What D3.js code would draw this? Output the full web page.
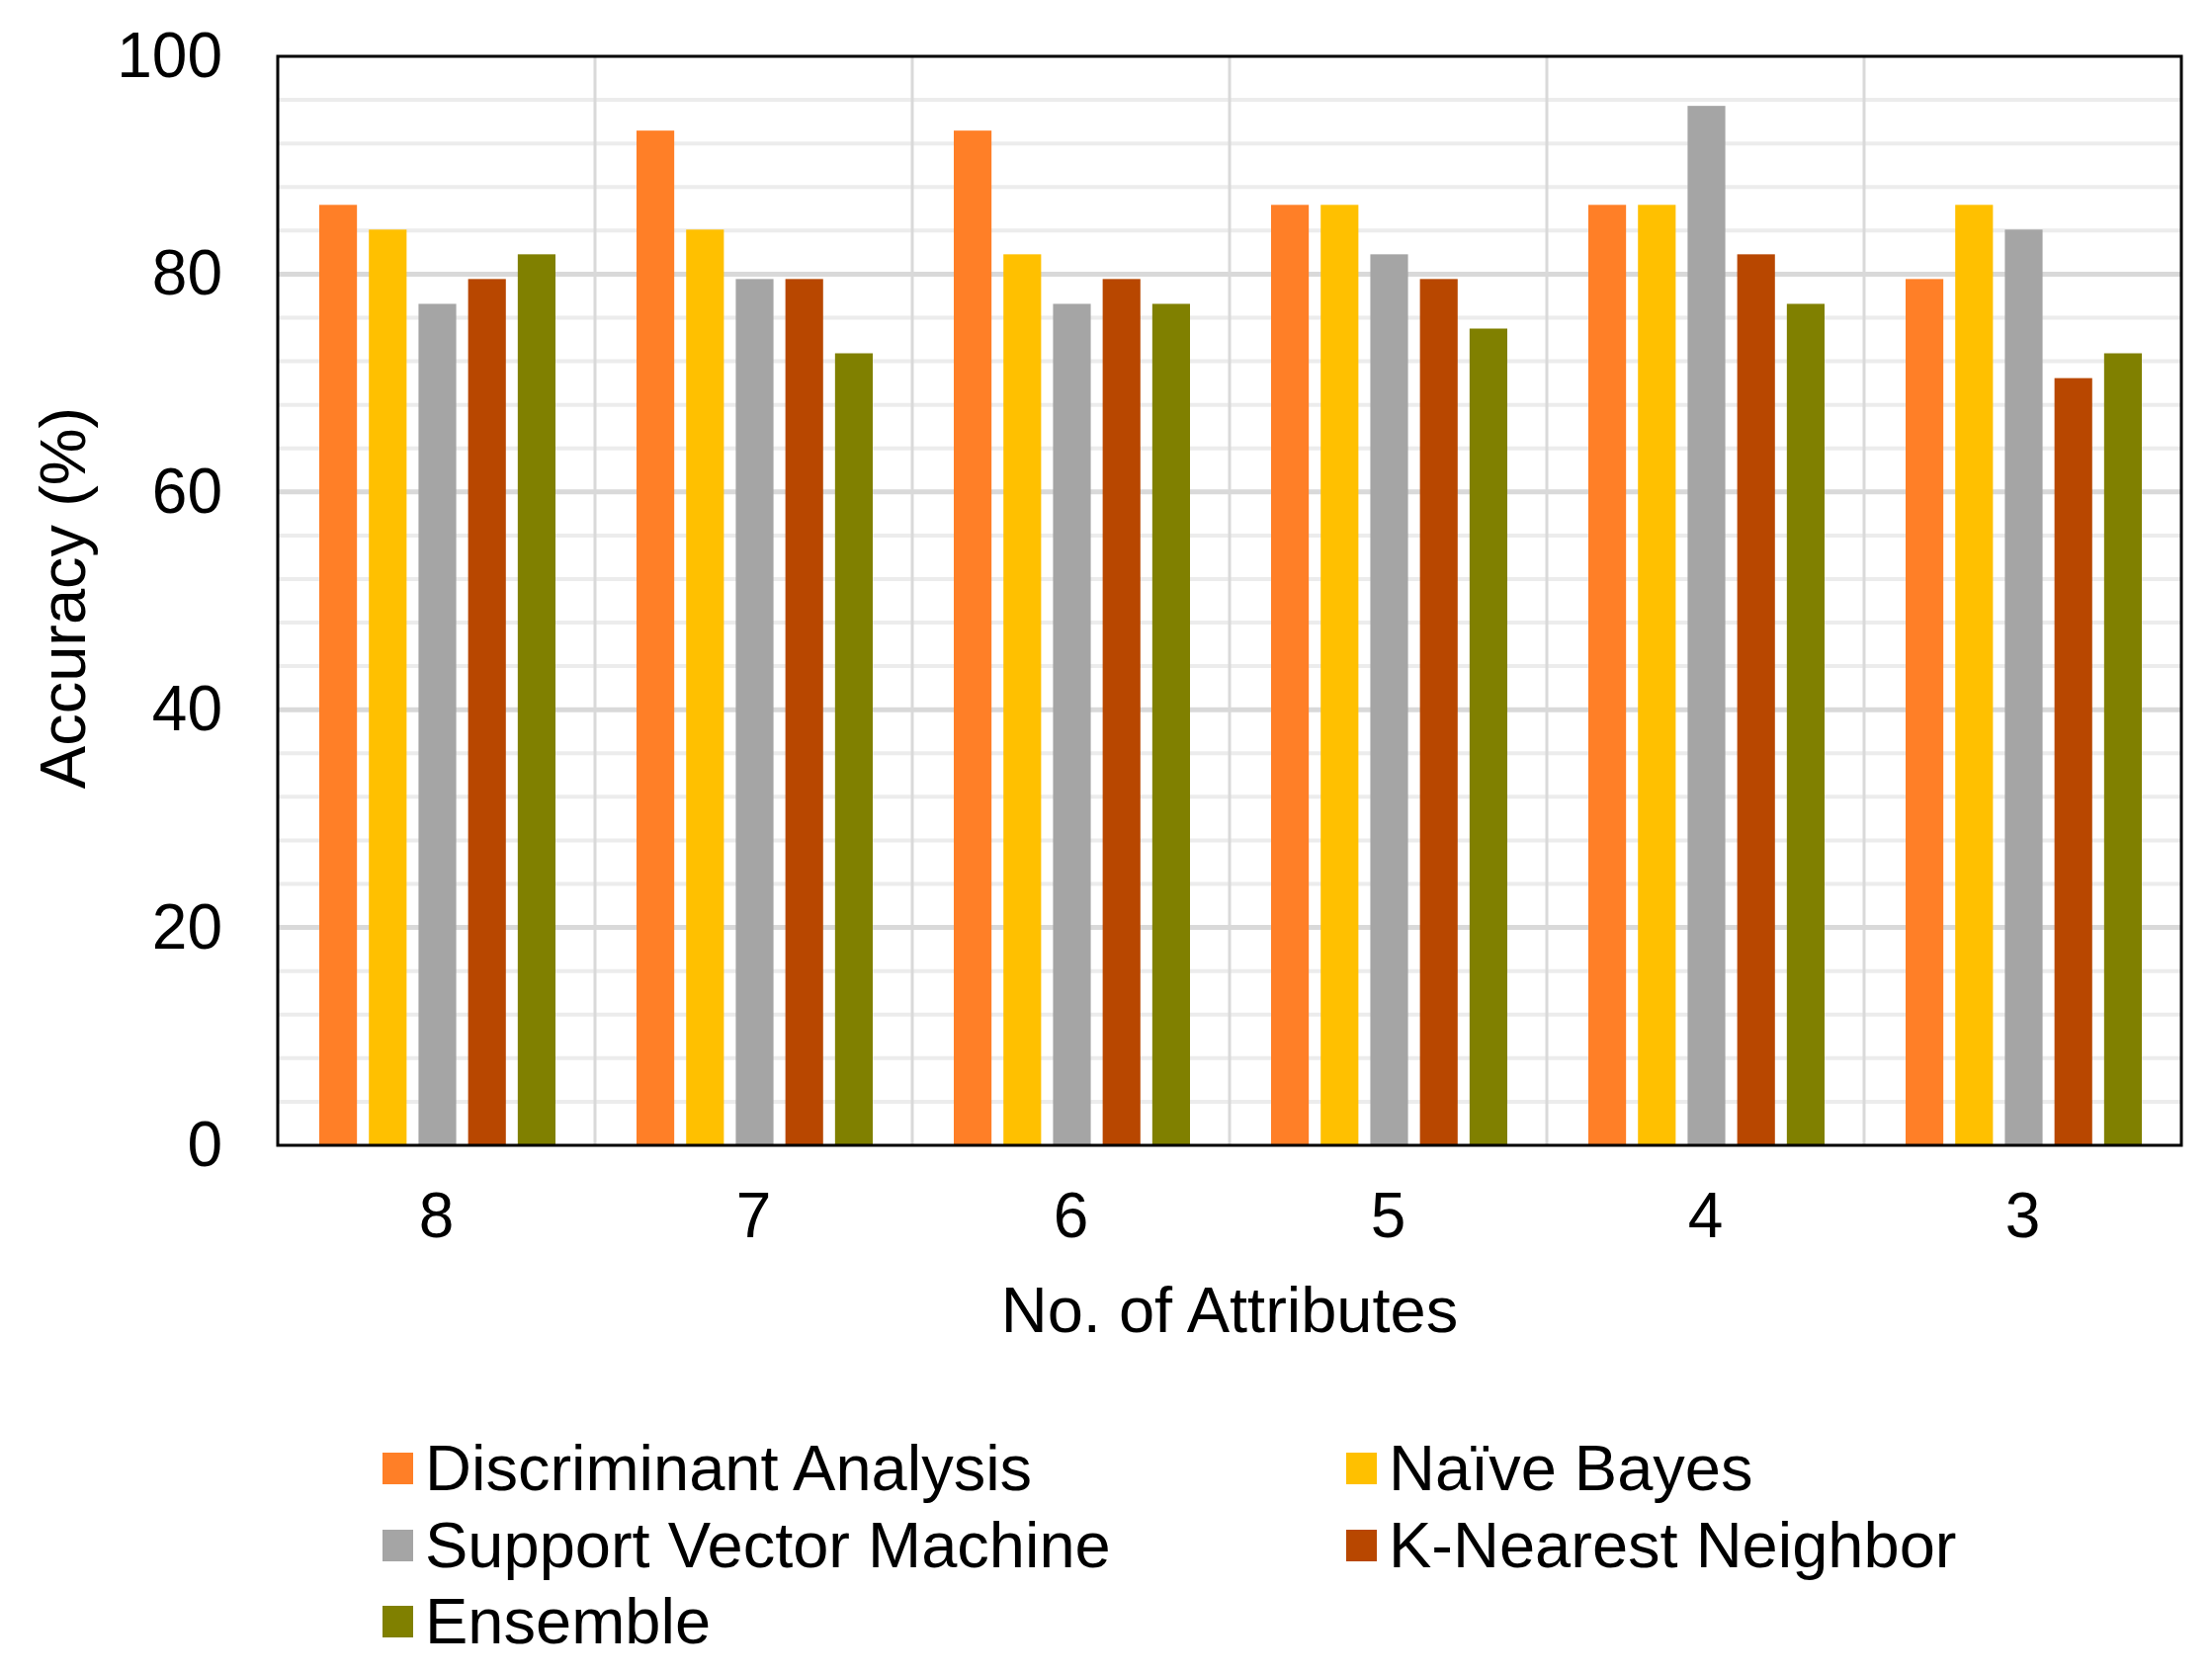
<!DOCTYPE html>
<html>
<head>
<meta charset="utf-8">
<script src="https://cdn.jsdelivr.net/npm/d3@7"></script>
<style>
    body { margin: 0; background: #fff; }
    text { font-family: "Liberation Sans", Arial, sans-serif; fill: #000; }
</style>
</head>
<body>
<svg id="chart"></svg>
<script>
// Data
const attributes = ['8', '7', '6', '5', '4', '3'];
const methods = ['Discriminant Analysis', 'Naïve Bayes', 'Support Vector Machine', 'K-Nearest Neighbor', 'Ensemble'];
const discriminant = [86.36, 93.18, 93.18, 86.36, 86.36, 79.55];
const naiveBayes = [84.09, 84.09, 81.82, 86.36, 86.36, 86.36];
const svm = [77.27, 79.55, 77.27, 81.82, 95.45, 84.09];
const knn = [79.55, 79.55, 79.55, 79.55, 81.82, 70.45];
const ensemble = [81.82, 72.73, 77.27, 75.00, 77.27, 72.73];
const yTicks = [0, 20, 40, 60, 80, 100];
const colors = ['#FF7F27', '#FFC000', '#A5A5A5', '#B84700', '#808000'];

const seriesValues = [discriminant, naiveBayes, svm, knn, ensemble];

const W = 2238, H = 1693;
const margin = { left: 281, top: 57, right: 2238 - 2207, bottom: 1693 - 1159 };
const innerW = W - margin.left - margin.right;
const innerH = H - margin.top - margin.bottom;

const svg = d3.select('#chart').attr('width', W).attr('height', H);
const g = svg.append('g').attr('transform', `translate(${margin.left},${margin.top})`);

const x0 = d3.scaleBand().domain(attributes).range([0, innerW]);
const x1 = d3.scaleBand().domain(methods)
    .range([42, x0.bandwidth() - 40])
    .paddingInner(0.24);
const y = d3.scaleLinear().domain([0, 100]).range([innerH, 0]);

// Minor gridlines (every 4)
const minor = d3.range(4, 100, 4).filter(v => v % 20 !== 0);
g.append('g').selectAll('line')
    .data(minor)
    .join('line')
    .attr('x1', 0).attr('x2', innerW)
    .attr('y1', d => y(d)).attr('y2', d => y(d))
    .attr('stroke', '#ececec')
    .attr('stroke-width', 4);

// Major gridlines
g.append('g').selectAll('line')
    .data(yTicks.filter(v => v > 0 && v < 100))
    .join('line')
    .attr('x1', 0).attr('x2', innerW)
    .attr('y1', d => y(d)).attr('y2', d => y(d))
    .attr('stroke', '#d9d9d9')
    .attr('stroke-width', 5);

// Vertical separators between categories
g.append('g').selectAll('line')
    .data(attributes.slice(1))
    .join('line')
    .attr('x1', d => x0(d)).attr('x2', d => x0(d))
    .attr('y1', 0).attr('y2', innerH)
    .attr('stroke', '#d9d9d9')
    .attr('stroke-width', 3);

// Bars
const groups = g.append('g').selectAll('g')
    .data(attributes)
    .join('g')
    .attr('transform', d => `translate(${x0(d)},0)`);

groups.selectAll('rect')
    .data((d, i) => methods.map((m, k) => ({ method: m, value: seriesValues[k][i], color: colors[k] })))
    .join('rect')
    .attr('x', d => x1(d.method))
    .attr('width', x1.bandwidth())
    .attr('y', d => y(d.value))
    .attr('height', d => innerH - y(d.value))
    .attr('fill', d => d.color);

// Plot frame
g.append('rect')
    .attr('x', 0).attr('y', 0)
    .attr('width', innerW).attr('height', innerH)
    .attr('fill', 'none')
    .attr('stroke', '#000')
    .attr('stroke-width', 3);

// Axes
const yAxis = g.append('g')
    .call(d3.axisLeft(y).tickValues(yTicks).tickSize(0).tickPadding(56));
yAxis.select('.domain').remove();
yAxis.selectAll('text')
    .style('font-size', '64px')
    .style('font-family', '"Liberation Sans", Arial, sans-serif');

const xAxis = g.append('g')
    .attr('transform', `translate(0,${innerH})`)
    .call(d3.axisBottom(x0).tickSize(0).tickPadding(48));
xAxis.select('.domain').remove();
xAxis.selectAll('text')
    .style('font-size', '64px')
    .style('font-family', '"Liberation Sans", Arial, sans-serif');

// Axis titles
svg.append('text')
    .attr('x', margin.left + innerW / 2)
    .attr('y', 1348)
    .attr('text-anchor', 'middle')
    .style('font-size', '65px')
    .text('No. of Attributes');

svg.append('text')
    .attr('transform', `translate(86,${margin.top + innerH / 2 - 3}) rotate(-90)`)
    .attr('text-anchor', 'middle')
    .style('font-size', '65px')
    .text('Accuracy (%)');

// Legend
const legendPos = [
    { x: 387, y: 1485 }, { x: 1362, y: 1485 },
    { x: 387, y: 1563 }, { x: 1362, y: 1563 },
    { x: 387, y: 1640 }
];
const legend = svg.append('g').selectAll('g')
    .data(methods)
    .join('g')
    .attr('transform', (d, i) => `translate(${legendPos[i].x},${legendPos[i].y})`);

legend.append('rect')
    .attr('x', 0).attr('y', -15)
    .attr('width', 31).attr('height', 32)
    .attr('fill', (d, i) => colors[i]);

legend.append('text')
    .attr('x', 43)
    .attr('dy', '0.35em')
    .style('font-size', '65px')
    .text(d => d);
</script>
</body>
</html>
